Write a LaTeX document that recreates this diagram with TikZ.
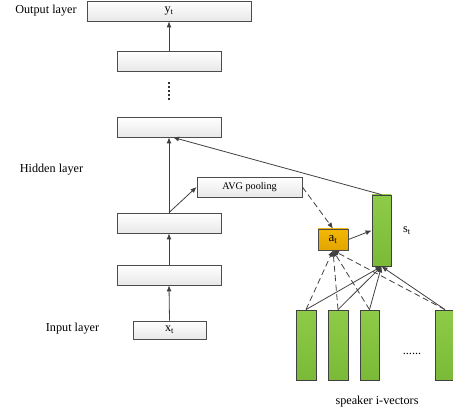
\documentclass[tikz,border=0pt]{standalone}
\usepackage{fontspec}
\setmainfont{Liberation Serif}
\usetikzlibrary{arrows.meta,shadows,positioning}

\tikzset{
  layerbox/.style={draw=black!70,line width=0.8pt,top color=white,bottom color=black!9,
    drop shadow={shadow xshift=1.2pt,shadow yshift=-1.2pt,fill=black!35},
    minimum width=104pt,minimum height=20pt,inner sep=0pt},
  ivecbar/.style={draw=black!75,line width=0.8pt,top color=green!50!lime!80!black!80,bottom color=green!45!lime!70!black!75,
    drop shadow={shadow xshift=1.2pt,shadow yshift=-1.2pt,fill=black!35},
    minimum width=20pt,minimum height=70pt,inner sep=0pt},
  conn/.style={draw=black!75,line width=0.8pt,-{Latex[length=6pt,width=5pt]}},
  dconn/.style={conn,dash pattern=on 6pt off 3.5pt},
  lbl/.style={inner sep=0pt,font=\fontsize{12.2}{14}\selectfont}
}
\definecolor{ivgreen}{HTML}{8DCB48}
\definecolor{ivgreendark}{HTML}{7BBA38}
\definecolor{attorange}{HTML}{F2B705}
\definecolor{attorangedark}{HTML}{E3A500}

\begin{document}
\begin{tikzpicture}[x=1pt,y=-1pt]
\useasboundingbox (0,0) rectangle (453,417);

% layer stack
\node[layerbox,minimum width=164pt] (out) at (169,11) {};
\node[layerbox] (h4) at (169,61) {};
\node[layerbox] (h3) at (169,127) {};
\node[layerbox] (h2) at (169,223) {};
\node[layerbox] (h1) at (169,275) {};
\node[layerbox,minimum width=73pt,minimum height=18pt] (in) at (169.5,330) {};
\node[lbl] at (out) {y\textsubscript{t}};
\node[lbl] at (in) {x\textsubscript{t}};

% pooling and attention
\node[layerbox,minimum width=105pt] (avg) at (249.5,187) {\fontsize{10.2}{12}\selectfont AVG pooling};
\node[layerbox,top color=attorange,bottom color=attorangedark,minimum width=30pt,minimum height=21pt] (at) at (333,239.5) {\fontsize{13}{14}\selectfont a\textsubscript{t}};
\node[ivecbar,top color=ivgreen,bottom color=ivgreendark,minimum width=19pt,minimum height=71pt] (st) at (381.5,230.5) {};

% i-vectors
\node[ivecbar,top color=ivgreen,bottom color=ivgreendark] (iv1) at (306,345) {};
\node[ivecbar,top color=ivgreen,bottom color=ivgreendark] (iv2) at (338,345) {};
\node[ivecbar,top color=ivgreen,bottom color=ivgreendark,minimum width=19pt] (iv3) at (369.5,345) {};
\node[ivecbar,top color=ivgreen,bottom color=ivgreendark,minimum width=19pt] (iv4) at (445,345) {};

% labels
\node[lbl] (outlbl) at (46,11) {Output layer};
\node[lbl] (hidlbl) at (51.5,170) {Hidden layer};
\node[lbl] (inlbl) at (72.5,329) {Input layer};
\node[lbl] (ivlbl) at (377,402) {speaker i-vectors};
\node[lbl,anchor=west] (stlbl) at (403,231) {s\textsubscript{t}};
\node[lbl] (ivdots) at (412,354) {......};

% connections
\draw[conn] (in.north) -- (h1.south);
\draw[conn] (h1.north) -- (h2.south);
\draw[conn] (h2.north) -- (h3.south);
\draw[conn] (h4.north) -- (out.south);
\draw[black!80,line width=1.6pt,dash pattern=on 1.4pt off 2.6pt] ([yshift=-11pt]h4.south) -- ([yshift=15pt]h3.north);
\draw[conn] (h2.north) -- (avg.west);
\draw[conn] (st.north) -- ([xshift=4pt]h3.south);
\draw[dconn] (avg.east) -- (at.north);
\draw[conn] (at.east) -- (st.west);
\foreach \v in {iv1,iv2,iv3,iv4}{
  \draw[conn] (\v.north) -- (st.south);
  \draw[dconn] (\v.north) -- (at.south);
}
\end{tikzpicture}
\end{document}
